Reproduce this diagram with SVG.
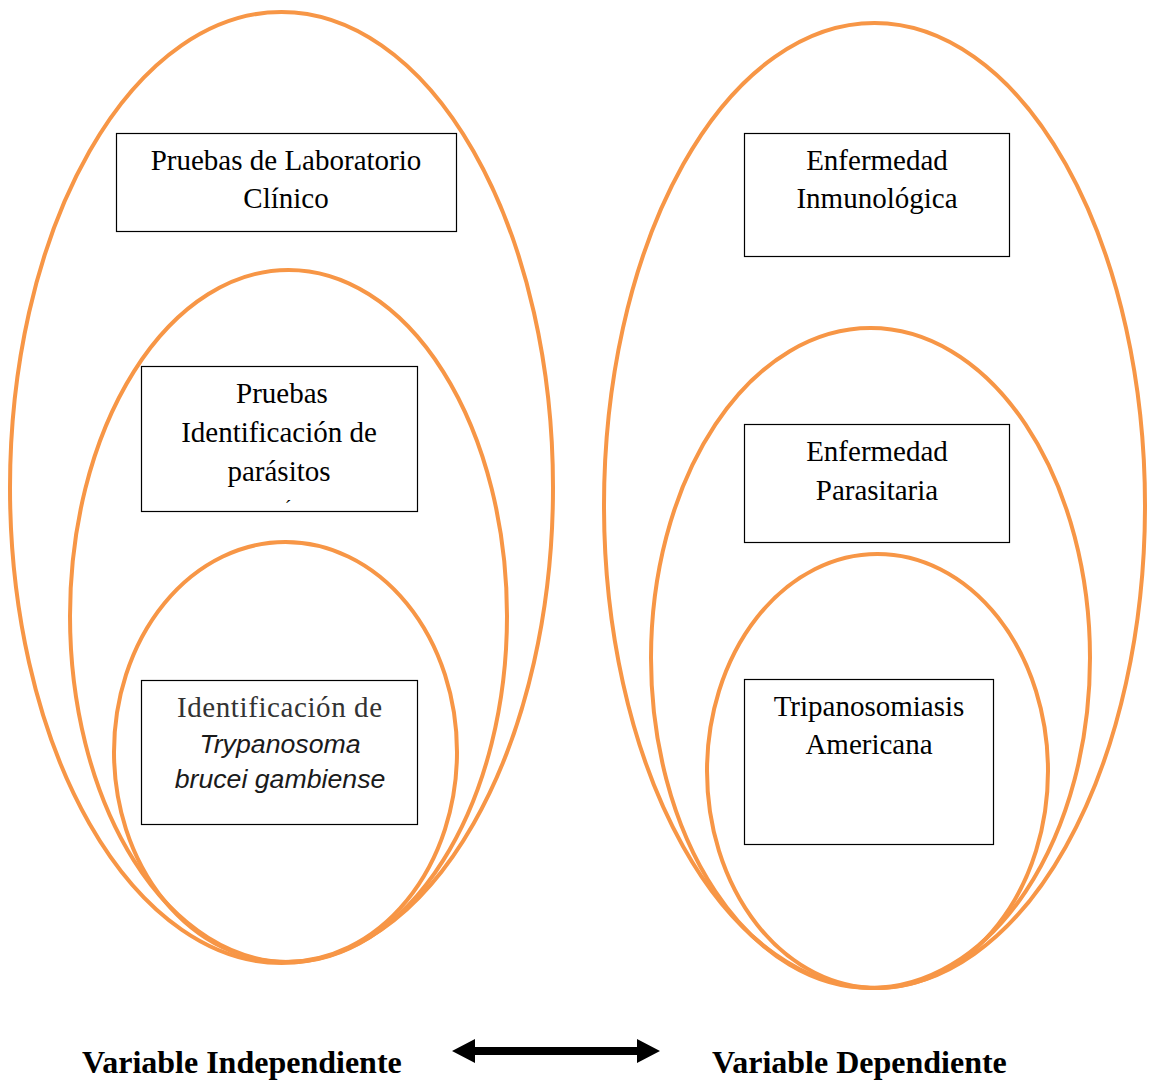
<svg xmlns="http://www.w3.org/2000/svg" width="1150" height="1084" viewBox="0 0 1150 1084">
<defs>
<style>
.ring{fill:none;stroke:#F79646;stroke-width:4}
.box{fill:#fff;stroke:#000;stroke-width:1.2}
.t{font-family:"Liberation Serif","Times New Roman",serif;font-size:29px;fill:#000;text-anchor:middle}
.ti{font-family:"Liberation Sans",Arial,sans-serif;font-size:26.7px;font-style:italic;fill:#1a1a1a;text-anchor:middle}
.lbl{font-family:"Liberation Serif","Times New Roman",serif;font-size:32px;font-weight:bold;fill:#000}
</style>
</defs>
<rect width="1150" height="1084" fill="#fff"/>
<g id="rings-left">
<ellipse id="ring-left-outer" class="ring" cx="281.5" cy="487.5" rx="271.5" ry="475.5"/>
<ellipse id="ring-left-middle" class="ring" cx="288.5" cy="616" rx="218.5" ry="346"/>
<ellipse id="ring-left-inner" class="ring" cx="285.5" cy="752" rx="171.5" ry="210"/>
</g>
<g id="rings-right">
<ellipse id="ring-right-outer" class="ring" cx="874.5" cy="505.5" rx="270.5" ry="482.5"/>
<ellipse id="ring-right-middle" class="ring" cx="870.5" cy="658" rx="219.5" ry="330"/>
<ellipse id="ring-right-inner" class="ring" cx="877.5" cy="771" rx="170.5" ry="217"/>
</g>
<g id="node-lab">
<rect class="box" x="116.5" y="133.5" width="340" height="98"/>
<text class="t" x="286" y="170">Pruebas de Laboratorio</text>
<text class="t" x="286" y="208">Clínico</text>
</g>
<g id="node-inmuno">
<rect class="box" x="744.5" y="133.5" width="265" height="123"/>
<text class="t" x="877" y="170">Enfermedad</text>
<text class="t" x="877" y="208">Inmunológica</text>
</g>
<g id="node-parasitos">
<rect class="box" x="141.5" y="366.5" width="276" height="145"/>
<text class="t" x="282" y="403">Pruebas</text>
<text class="t" x="279" y="442">Identificación de</text>
<text class="t" x="279" y="481">parásitos</text>
<text class="t" x="288" y="515" style="font-size:20px">´</text>
</g>
<g id="node-parasitaria">
<rect class="box" x="744.5" y="424.5" width="265" height="118"/>
<text class="t" x="877" y="461">Enfermedad</text>
<text class="t" x="877" y="500">Parasitaria</text>
</g>
<g id="node-trypanosoma">
<rect class="box" x="141.5" y="680.5" width="276" height="144"/>
<text class="t" x="177" y="717" style="fill:#333;text-anchor:start" textLength="205" lengthAdjust="spacing">Identificación  de</text>
<text class="ti" x="280" y="753">Trypanosoma</text>
<text class="ti" x="280" y="788">brucei gambiense</text>
</g>
<g id="node-tripanosomiasis">
<rect class="box" x="744.5" y="679.5" width="249" height="165"/>
<text class="t" x="869" y="716">Tripanosomiasis</text>
<text class="t" x="869" y="754">Americana</text>
</g>
<g id="connectors">
<path d="M452,1051 L475,1039 L475,1047 L637,1047 L637,1039 L660,1051 L637,1063 L637,1055 L475,1055 L475,1063 Z" fill="#000"/>
</g>
<g id="labels">
<text class="lbl" x="82" y="1073">Variable Independiente</text>
<text class="lbl" x="712" y="1073">Variable Dependiente</text>
</g>
</svg>
